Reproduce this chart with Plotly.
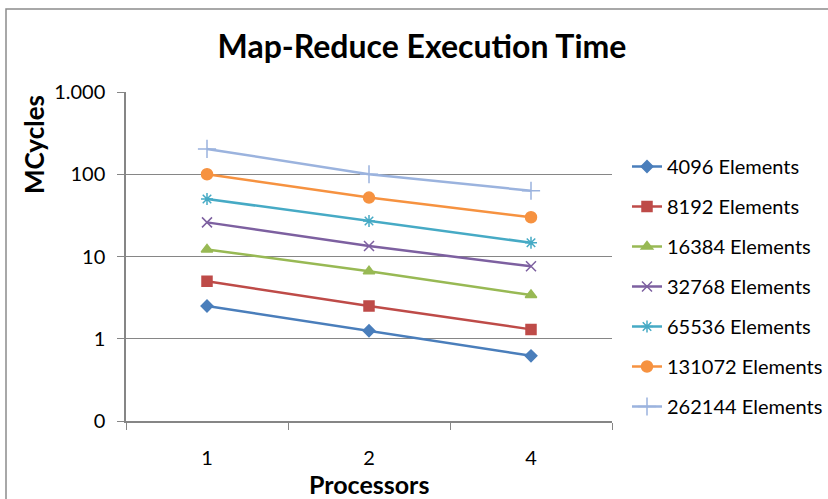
import plotly.graph_objects as go

processors = ["1", "2", "4"]
series_names = ["4096 Elements", "8192 Elements", "16384 Elements", "32768 Elements",
                "65536 Elements", "131072 Elements", "262144 Elements"]
s4096 = [2.5, 1.25, 0.62]
s8192 = [5.0, 2.5, 1.3]
s16384 = [12.2, 6.6, 3.4]
s32768 = [26, 13.4, 7.6]
s65536 = [50, 27, 14.7]
s131072 = [100, 52, 30]
s262144 = [203, 100, 63]
y_tickvals = [0.1, 1, 10, 100, 1000]
y_ticktext = ["0", "1", "10", "100", "1.000"]

series_values = [s4096, s8192, s16384, s32768, s65536, s131072, s262144]
colors = ["#4A7EBB", "#BE4B48", "#98B954", "#7D60A0", "#46AAC5", "#F69240", "#9BB3DE"]
symbols = ["diamond", "square", "triangle-up", "x-thin-open", "asterisk-open", "circle", "cross-thin-open"]
sizes = [9, 10, 10, 10, 10, 11, 13]

FONT = "Lato, 'Open Sans', sans-serif"

fig = go.Figure()
for i, (name, vals) in enumerate(zip(series_names, series_values)):
    fig.add_trace(go.Scatter(
        x=processors, y=vals, name=name, mode="lines+markers",
        legendgroup=str(i),
        line=dict(color=colors[i], width=2.5),
        marker=dict(symbol=symbols[i], size=sizes[i], color=colors[i],
                    line=dict(color=colors[i], width=1.5)),
    ))

L, R, T, B = 126, 612, 92, 421
W, H = 828, 499
pw, ph = R - L, B - T

def px(x):
    return (x - L) / pw

def py(y):
    return (B - y) / ph

fig.update_layout(
    width=W, height=H,
    margin=dict(l=L, r=W - R, t=T, b=H - B),
    paper_bgcolor="white", plot_bgcolor="white",
    font=dict(family=FONT, color="#000000", size=20),
    title=dict(text="<b>Map-Reduce Execution Time</b>", x=422 / W, xanchor="center",
               y=1 - 47 / H, yanchor="middle", xref="container",
               yref="container", font=dict(size=32, family=FONT, color="#000")),
    showlegend=True,
    legend=dict(xref="container", yref="container", x=627 / W, xanchor="left",
                y=1 - 147 / H, yanchor="top", maxheight=400,
                font=dict(size=20, family=FONT), tracegroupgap=11,
                bgcolor="rgba(0,0,0,0)"),
    xaxis=dict(type="category", categoryorder="array", categoryarray=processors,
               range=[-0.5, 2.5], tickson="boundaries", ticks="outside", ticklen=7,
               tickcolor="#868686", showline=True, linecolor="#868686", linewidth=1.5,
               showgrid=False, tickfont=dict(size=20), ticklabelstandoff=18, fixedrange=True),
    yaxis=dict(type="log", range=[-1, 3], tickvals=y_tickvals, ticktext=y_ticktext,
               ticks="outside", ticklen=7, tickcolor="#868686", showline=True,
               linecolor="#868686", linewidth=1.5, showgrid=True, gridcolor="#868686",
               gridwidth=1.2, zeroline=False, tickfont=dict(size=20), ticklabelstandoff=8),
    annotations=[
        dict(text="<b>MCycles</b>", textangle=-90, x=px(34), y=py(145), xref="paper",
             yref="paper", xanchor="center", yanchor="middle", showarrow=False,
             font=dict(size=26, family=FONT)),
        dict(text="<b>Processors</b>", x=px(369), y=py(484), xref="paper",
             yref="paper", xanchor="center", yanchor="middle", showarrow=False,
             font=dict(size=25, family=FONT)),
    ],
    shapes=[
        dict(type="rect", xref="paper", yref="paper", x0=px(6), x1=px(900),
             y0=py(560), y1=py(9), line=dict(color="#8C8C8C", width=1.5), layer="below"),
    ],
)

fig.write_html("out.html")
